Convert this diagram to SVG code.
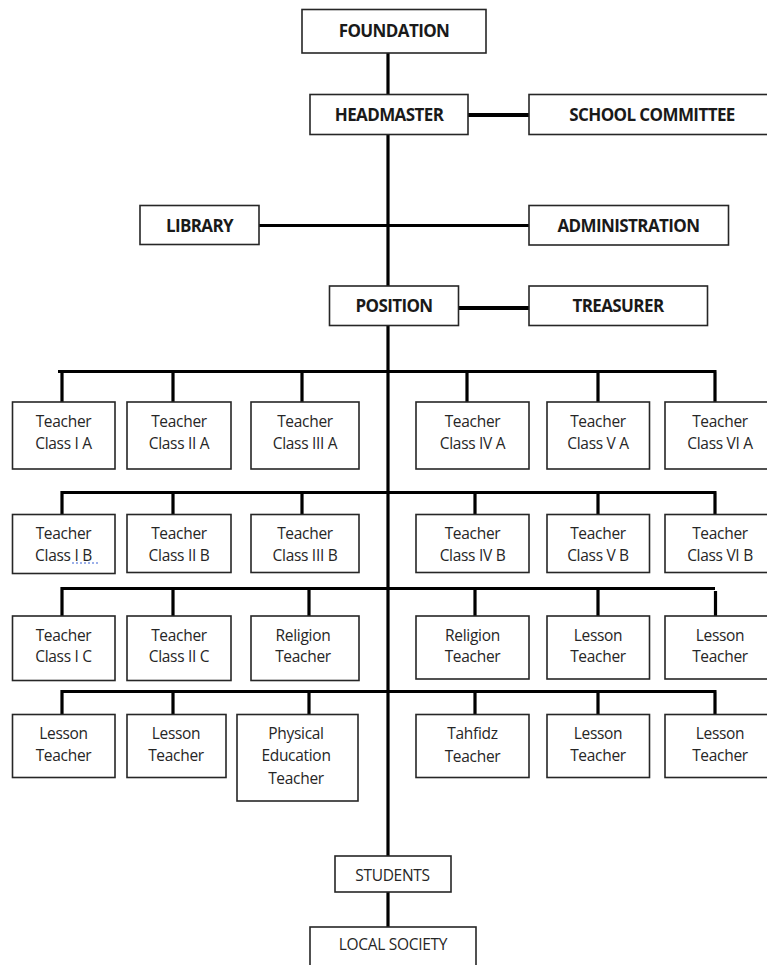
<svg xmlns="http://www.w3.org/2000/svg" width="767" height="965" viewBox="0 0 767 965">
<style>
.bg{fill:#fff}
.box{fill:#fff;stroke:#262626;stroke-width:1.6}
.hb{font-family:"Open Sans","Liberation Sans",sans-serif;font-weight:bold;font-size:17px;fill:#1a1a1a;text-anchor:middle;letter-spacing:-0.6px}
.t{font-family:"Open Sans","Liberation Sans",sans-serif;font-size:15.5px;fill:#262626;text-anchor:middle;letter-spacing:-0.3px}
.c{fill:none;stroke:#000;stroke-width:3.2;stroke-linejoin:miter;stroke-linecap:butt}
.cw{fill:none;stroke:#000;stroke-width:4}
.sq{fill:none;stroke:#3a63d6;stroke-width:1.2;stroke-dasharray:2 2}
</style>
<rect class="bg" x="0" y="0" width="767" height="965"/>
<g id="connectors">
<line class="c" x1="388" y1="53" x2="388" y2="856"/>
<line class="c" x1="388" y1="892" x2="388" y2="927"/>
<line class="cw" x1="468" y1="115" x2="529" y2="115"/>
<line class="c" x1="259" y1="225.5" x2="529" y2="225.5"/>
<line class="cw" x1="458" y1="308" x2="529" y2="308"/>
<path class="c" d="M58 371.5H716.5M62 371.5V402M173 371.5V402M302 371.5V402M467 371.5V402M598 371.5V402M715 371.5V402"/>
<path class="c" d="M62 514.5V492.5H716.5M173 492.5V514.5M302 492.5V514.5M475 492.5V514.5M598 492.5V514.5M715 492.5V514.5"/>
<path class="c" d="M62 616V588.5H715M173 588.5V616M309 588.5V616M475 588.5V616M598 588.5V616M715.5 591V616"/>
<path class="c" d="M62 714V691.5H716.5M173 691.5V714M309 691.5V714M475 691.5V714M598 691.5V714M715 691.5V714"/>
</g>
<g id="foundation"><rect class="box" x="302" y="9.5" width="184" height="43.5"/><text class="hb" x="394" y="36.5">FOUNDATION</text></g>
<g id="headmaster"><rect class="box" x="310" y="94.5" width="158" height="40"/><text class="hb" x="389" y="121">HEADMASTER</text></g>
<g id="school-committee"><rect class="box" x="529" y="94.5" width="246" height="40"/><text class="hb" x="652" y="121">SCHOOL COMMITTEE</text></g>
<g id="library"><rect class="box" x="140" y="205.5" width="119" height="39"/><text class="hb" x="199.5" y="231.5">LIBRARY</text></g>
<g id="administration"><rect class="box" x="529" y="205.5" width="199.5" height="39.5"/><text class="hb" x="628.5" y="231.5">ADMINISTRATION</text></g>
<g id="position"><rect class="box" x="329.5" y="286" width="129" height="39.5"/><text class="hb" x="394" y="312">POSITION</text></g>
<g id="treasurer"><rect class="box" x="529" y="286" width="178.5" height="39.5"/><text class="hb" x="618" y="312">TREASURER</text></g>

<g id="t-1a"><rect class="box" x="12.5" y="402" width="102.5" height="67"/><text class="t" x="63.5" y="427">Teacher</text><text class="t" x="63.5" y="448.5">Class I A</text></g>
<g id="t-2a"><rect class="box" x="127" y="402" width="104" height="67"/><text class="t" x="179" y="427">Teacher</text><text class="t" x="179" y="448.5">Class II A</text></g>
<g id="t-3a"><rect class="box" x="251" y="402" width="108" height="67"/><text class="t" x="305" y="427">Teacher</text><text class="t" x="305" y="448.5">Class III A</text></g>
<g id="t-4a"><rect class="box" x="416" y="402" width="113" height="67"/><text class="t" x="472.5" y="427">Teacher</text><text class="t" x="472.5" y="448.5">Class IV A</text></g>
<g id="t-5a"><rect class="box" x="547" y="402" width="102.5" height="67"/><text class="t" x="598" y="427">Teacher</text><text class="t" x="598" y="448.5">Class V A</text></g>
<g id="t-6a"><rect class="box" x="665" y="402" width="111" height="67"/><text class="t" x="720" y="427">Teacher</text><text class="t" x="720" y="448.5">Class VI A</text></g>

<g id="t-1b"><rect class="box" x="12.5" y="514.5" width="102.5" height="59"/><text class="t" x="63.5" y="539">Teacher</text><text class="t" x="63.5" y="560.5">Class I B</text><line class="sq" x1="72" y1="563" x2="98" y2="563"/></g>
<g id="t-2b"><rect class="box" x="127" y="514.5" width="104" height="58"/><text class="t" x="179" y="539">Teacher</text><text class="t" x="179" y="560.5">Class II B</text></g>
<g id="t-3b"><rect class="box" x="251" y="514.5" width="108" height="58"/><text class="t" x="305" y="539">Teacher</text><text class="t" x="305" y="560.5">Class III B</text></g>
<g id="t-4b"><rect class="box" x="416" y="514.5" width="113" height="58"/><text class="t" x="472.5" y="539">Teacher</text><text class="t" x="472.5" y="560.5">Class IV B</text></g>
<g id="t-5b"><rect class="box" x="547" y="514.5" width="102.5" height="58"/><text class="t" x="598" y="539">Teacher</text><text class="t" x="598" y="560.5">Class V B</text></g>
<g id="t-6b"><rect class="box" x="665" y="514.5" width="111" height="58"/><text class="t" x="720" y="539">Teacher</text><text class="t" x="720" y="560.5">Class VI B</text></g>

<g id="t-1c"><rect class="box" x="12.5" y="616" width="102.5" height="64.5"/><text class="t" x="63.5" y="640.5">Teacher</text><text class="t" x="63.5" y="662">Class I C</text></g>
<g id="t-2c"><rect class="box" x="127" y="616" width="104" height="64.5"/><text class="t" x="179" y="640.5">Teacher</text><text class="t" x="179" y="662">Class II C</text></g>
<g id="religion-1"><rect class="box" x="251" y="616" width="108" height="64.5"/><text class="t" x="303" y="640.5">Religion</text><text class="t" x="303" y="662">Teacher</text></g>
<g id="religion-2"><rect class="box" x="416" y="616" width="113" height="63"/><text class="t" x="472.5" y="640.5">Religion</text><text class="t" x="472.5" y="662">Teacher</text></g>
<g id="lesson-1"><rect class="box" x="547" y="616" width="102.5" height="63"/><text class="t" x="598" y="640.5">Lesson</text><text class="t" x="598" y="662">Teacher</text></g>
<g id="lesson-2"><rect class="box" x="665" y="616" width="111" height="63"/><text class="t" x="720" y="640.5">Lesson</text><text class="t" x="720" y="662">Teacher</text></g>

<g id="lesson-3"><rect class="box" x="12.5" y="714.5" width="102.5" height="63"/><text class="t" x="63.5" y="739">Lesson</text><text class="t" x="63.5" y="760.5">Teacher</text></g>
<g id="lesson-4"><rect class="box" x="127" y="714.5" width="99" height="63"/><text class="t" x="176" y="739">Lesson</text><text class="t" x="176" y="760.5">Teacher</text></g>
<g id="physical-education"><rect class="box" x="237" y="714.5" width="121" height="86.5"/><text class="t" x="296" y="739">Physical</text><text class="t" x="296" y="760.5">Education</text><text class="t" x="296" y="784">Teacher</text></g>
<g id="tahfidz"><rect class="box" x="416" y="714.5" width="113" height="63"/><text class="t" x="472.5" y="739">Tahfidz</text><text class="t" x="472.5" y="762">Teacher</text></g>
<g id="lesson-5"><rect class="box" x="547" y="714.5" width="102.5" height="63"/><text class="t" x="598" y="739">Lesson</text><text class="t" x="598" y="760.5">Teacher</text></g>
<g id="lesson-6"><rect class="box" x="665" y="714.5" width="111" height="63"/><text class="t" x="720" y="739">Lesson</text><text class="t" x="720" y="760.5">Teacher</text></g>

<g id="students"><rect class="box" x="335" y="856" width="116" height="36"/><text class="t" x="392.5" y="881">STUDENTS</text></g>
<g id="local-society"><rect class="box" x="310" y="927" width="166" height="50"/><text class="t" x="393" y="949.5">LOCAL SOCIETY</text></g>
</svg>
